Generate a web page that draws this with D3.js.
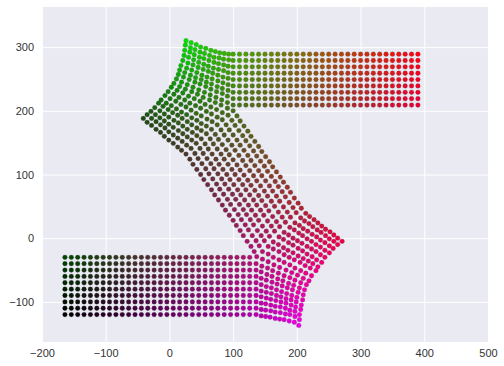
<!DOCTYPE html>
<html>
<head>
<meta charset="utf-8">
<script src="https://cdn.jsdelivr.net/npm/d3@7"></script>
<style>
body { margin: 0; background: #fff; }
text { font-family: "Liberation Sans", Arial, sans-serif; font-size: 11px; fill: #333; }
</style>
</head>
<body>
<svg id="chart"></svg>
<script>
// tick labels
var xTicks = [-200, -100, 0, 100, 200, 300, 400, 500];
var yTicks = [-100, 0, 100, 200, 300];

// left lower block, regular grid
var lowerX = [-164,-154,-144,-134,-124,-114,-104,-94,-84,-74,-64,-54,-44,-34,-24,-14,-4,6,16,26,36,46,56,66,76,86,96,106,116,126];
var lowerY = [-120,-110,-100,-90,-80,-70,-60,-50,-40,-30];

// right upper block, regular grid
var upperX = [110,120,130,140,150,160,170,180,190,200,210,220,230,240,250,260,270,280,290,300,310,320,330,340,350,360,370,380,390];
var upperY = [289,279,269,259,249,239,229,219,209];

// upper left fan, one row per line, outer arc first in each row
var upperFanX = [
  [26,34,42,49,57,65,72,79,86,93,100],
  [25,33,40,48,55,63,70,78,85,93,100],
  [24,32,39,47,54,62,70,77,85,92,100],
  [23,30,38,46,54,61,69,77,85,92,100],
  [21,29,37,45,53,61,68,76,84,92,100],
  [18,27,35,43,51,59,67,76,84,92,100],
  [16,24,33,41,50,58,66,75,83,92,100],
  [14,22,31,40,48,57,65,74,83,91,100],
  [11,19,28,37,46,55,64,73,82,91,100],
  [7,16,25,35,44,53,63,72,81,91,100],
  [3,12,21,30,39,48,56,65,74,83,92],
  [-2,7,15,24,32,41,49,58,66,75,83],
  [-7,1,10,18,26,34,42,50,59,67,75],
  [-13,-5,3,11,19,27,35,43,50,58,66],
  [-17,-10,-2,5,13,20,28,35,43,50,58],
  [-23,-15,-8,-1,7,14,21,28,36,43,50],
  [-29,-22,-15,-8,-1,6,14,21,28,35,42],
  [-35,-28,-21,-14,-7,-1,6,13,20,27,34],
  [-41,-35,-28,-21,-14,-8,-1,6,13,19,26]
];
var upperFanY = [
  [310,307,304,300,298,295,293,291,290,289,289],
  [303,299,296,292,290,287,284,283,281,280,279],
  [295,292,288,284,282,279,276,274,272,270,269],
  [287,284,280,276,273,270,267,265,263,260,259],
  [279,275,272,268,265,262,259,256,253,251,249],
  [271,267,264,260,256,253,250,247,244,241,239],
  [264,260,256,252,249,245,242,238,235,232,229],
  [257,253,249,245,242,238,234,230,227,223,219],
  [250,245,241,237,233,229,225,221,217,213,209],
  [243,238,234,230,226,221,217,213,209,204,200],
  [237,232,228,223,219,215,210,206,202,197,193],
  [230,226,221,217,212,208,204,199,195,190,186],
  [224,219,215,210,206,201,196,192,187,183,178],
  [217,212,208,203,198,194,189,185,180,176,171],
  [212,207,202,197,193,188,183,178,173,169,164],
  [205,200,195,190,185,181,176,171,166,161,156],
  [199,194,189,184,179,174,169,164,159,154,149],
  [194,188,183,178,173,167,162,157,152,146,141],
  [188,182,177,171,166,160,154,149,143,138,132]
];

// diagonal band between the fans
var bandX = [
  [106,98,89,81,72,64,56,48,40,32],
  [111,103,94,86,77,69,61,53,45,37],
  [117,109,100,92,83,75,67,59,51,43],
  [123,115,106,98,89,81,73,65,57,49],
  [128,120,111,103,94,86,78,70,62,54],
  [134,126,117,109,100,92,84,76,68,60],
  [140,132,123,115,106,98,90,82,74,66],
  [145,137,128,120,111,103,95,87,79,71],
  [151,143,134,126,117,109,101,93,85,77],
  [157,149,140,132,123,115,107,99,91,83],
  [162,154,145,137,128,120,112,104,96,88],
  [168,160,151,143,134,126,118,110,102,94],
  [174,166,157,149,140,132,124,116,108,100],
  [179,171,162,154,145,137,129,121,113,105],
  [185,177,168,160,151,143,135,127,119,111],
  [190,182,173,165,156,148,140,132,124,116],
  [196,188,179,171,162,154,146,138,130,122],
  [202,194,185,177,168,160,152,144,136,128],
  [207,199,190,182,173,165,157,149,141,133]
];
var bandY = [
  [192,185,178,170,163,156,148,141,133,124],
  [184,177,170,162,155,148,140,133,125,116],
  [176,169,162,154,147,140,132,125,117,108],
  [168,161,154,146,139,132,124,117,109,100],
  [160,153,146,138,131,124,116,109,101,92],
  [152,145,138,130,123,116,108,101,93,84],
  [144,137,130,122,115,108,100,93,85,76],
  [136,129,122,114,107,100,92,85,77,68],
  [128,121,114,106,99,92,84,77,69,60],
  [120,113,106,98,91,84,76,69,61,52],
  [112,105,98,90,83,76,68,61,53,44],
  [104,97,90,82,75,68,60,53,45,36],
  [96,89,82,74,67,60,52,45,37,28],
  [88,81,74,66,59,52,44,37,29,20],
  [80,73,66,58,51,44,36,29,21,12],
  [72,65,58,50,43,36,28,21,13,4],
  [63,56,49,41,34,27,19,12,4,-5],
  [55,48,41,33,26,19,11,4,-4,-13],
  [47,40,33,25,18,11,3,-4,-12,-21]
];

// lower right fan, bottom row first, inner arc first in each row
var lowerFanX = [
  [136,144,151,158,166,173,180,188,196,203],
  [136,144,151,159,166,174,182,189,197,204],
  [136,144,151,159,166,174,182,189,197,204],
  [136,144,152,159,167,175,183,191,198,206],
  [136,144,152,160,168,175,183,191,199,207],
  [136,144,152,160,168,176,184,192,200,209],
  [136,144,152,161,169,177,185,193,202,210],
  [136,144,153,161,170,178,187,195,204,212],
  [136,145,154,162,171,180,189,197,206,215],
  [137,146,155,164,173,183,192,201,210,219],
  [146,155,163,172,180,189,197,206,214,223],
  [155,163,172,180,188,196,205,213,221,230],
  [163,171,179,186,194,202,210,218,225,233],
  [172,179,187,194,202,209,216,224,231,239],
  [180,187,194,201,208,216,223,230,237,244],
  [189,196,203,209,216,223,230,237,244,251],
  [197,204,210,217,224,231,237,244,251,257],
  [206,212,219,225,232,238,245,251,258,264],
  [214,220,227,233,239,245,252,258,264,271]
];
var lowerFanY = [
  [-120,-122,-123,-124,-126,-127,-128,-130,-132,-137],
  [-110,-112,-113,-114,-116,-117,-119,-120,-123,-128],
  [-100,-102,-103,-105,-107,-108,-110,-113,-115,-120],
  [-90,-92,-94,-96,-98,-100,-102,-105,-108,-112],
  [-80,-83,-85,-87,-90,-92,-95,-97,-100,-105],
  [-70,-73,-76,-78,-81,-84,-87,-90,-93,-97],
  [-60,-63,-66,-69,-72,-75,-78,-81,-85,-89],
  [-50,-53,-57,-60,-64,-67,-71,-74,-78,-81],
  [-40,-44,-47,-51,-55,-59,-62,-66,-70,-73],
  [-29,-33,-37,-42,-46,-50,-54,-58,-63,-67],
  [-21,-25,-30,-34,-38,-42,-47,-51,-55,-59],
  [-13,-17,-21,-26,-30,-34,-38,-43,-47,-51],
  [-6,-10,-15,-19,-23,-28,-32,-36,-40,-45],
  [2,-2,-7,-11,-16,-20,-25,-29,-34,-38],
  [9,5,0,-4,-8,-13,-17,-21,-26,-30],
  [17,13,8,4,-1,-5,-10,-14,-19,-23],
  [24,20,15,11,6,2,-3,-7,-12,-16],
  [32,27,23,18,13,9,4,-1,-5,-10],
  [39,34,29,24,19,14,10,5,0,-5]
];

var margin = {top: 7, right: 16, bottom: 24, left: 42};
var width = 488 - margin.left;
var height = 342 - margin.top;

var svg = d3.select("#chart")
  .attr("width", 504)
  .attr("height", 366)
  .append("g")
  .attr("transform", "translate(" + margin.left + "," + margin.top + ")");

var xScale = d3.scaleLinear().domain([-200, 500]).range([0, width]);
var yScale = d3.scaleLinear().domain([-163, 363]).range([height, 0]);

svg.append("rect")
  .attr("width", width)
  .attr("height", height)
  .attr("fill", "#eaeaf2");

var xAxis = d3.axisBottom(xScale).tickValues(xTicks).tickFormat(d3.format("d"))
  .tickSize(-height).tickSizeOuter(0).tickPadding(7);
var yAxis = d3.axisLeft(yScale).tickValues(yTicks).tickFormat(d3.format("d"))
  .tickSize(-width).tickSizeOuter(0).tickPadding(8);

var gx = svg.append("g").attr("transform", "translate(0," + height + ")").call(xAxis);
var gy = svg.append("g").call(yAxis);
[gx, gy].forEach(function(g) {
  g.select(".domain").remove();
  g.selectAll("line").attr("stroke", "#fff").attr("stroke-width", 1);
});

// colours: u runs along the sheet (0..39 columns), w across it (0..18 rows)
function upperColor(u, w) {
  return [
    (1 - u) * w * 30 + u * (1 - w) * 255 + u * w * 200,
    (1 - u) * (1 - w) * 225 + (1 - u) * w * 75,
    (1 - u) * w * 20 + u * (1 - w) * 20 + u * w * 100
  ];
}
function lowerColor(u, v) {
  return [
    u * 238,
    v * (1 - u) * 140,
    u * ((1 - v) * 230 + v * 70)
  ];
}

var points = [];
function add(x, y, c) {
  points.push({x: x, y: y, c: c});
}

lowerY.forEach(function(y, r) {
  lowerX.forEach(function(x, k) { add(x, y, lowerColor(k / 39, r / 18)); });
});
lowerFanX.forEach(function(row, j) {
  row.forEach(function(x, i) { add(x, lowerFanY[j][i], lowerColor((i + 30) / 39, j / 18)); });
});
bandX.forEach(function(row, k) {
  row.forEach(function(x, c) {
    var a = upperColor(10 / 39, (c + 9) / 18);
    var b = lowerColor(30 / 39, (18 - c) / 18);
    var t = (k + 1) / 20;
    add(x, bandY[k][c], a.map(function(v, n) { return v + (b[n] - v) * t; }));
  });
});
upperFanX.forEach(function(row, j) {
  row.forEach(function(x, i) { add(x, upperFanY[j][i], upperColor(i / 39, j / 18)); });
});
upperY.forEach(function(y, r) {
  upperX.forEach(function(x, k) { add(x, y, upperColor((k + 11) / 39, r / 18)); });
});

svg.append("g").selectAll("circle")
  .data(points)
  .join("circle")
  .attr("cx", function(d) { return xScale(d.x); })
  .attr("cy", function(d) { return yScale(d.y); })
  .attr("r", 2.4)
  .attr("fill", function(d) { return d3.rgb(d.c[0], d.c[1], d.c[2]).toString(); })
  .attr("stroke", "#555")
  .attr("stroke-opacity", 0.3)
  .attr("stroke-width", 0.6);
</script>
</body>
</html>
